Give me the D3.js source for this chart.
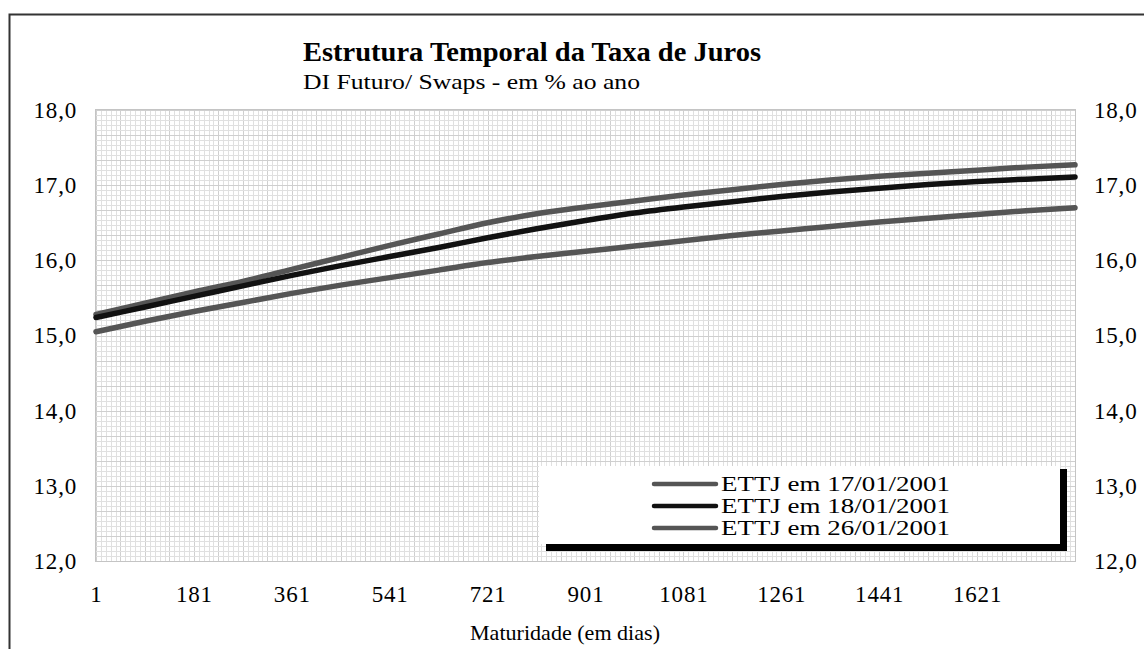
<!DOCTYPE html>
<html>
  <head>
    <meta charset="utf-8">
    <title>Estrutura Temporal da Taxa de Juros</title>
    <script src="https://d3js.org/d3.v7.min.js"></script>
    <style>
      body { margin: 0; background: #fff; }
      svg { display: block; font-family: "Liberation Serif", "Times New Roman", serif; }
    </style>
  </head>
  <body>
    <svg></svg>
    <script>
      // Maturity in days and the three term structures (% per year)
      var days = [1, 91, 181, 271, 361, 451, 541, 631, 721, 811, 901, 991, 1081, 1171, 1261, 1351, 1441, 1531, 1621, 1711, 1801];
      var ettj17 = [15.28, 15.43, 15.58, 15.72, 15.88, 16.04, 16.20, 16.35, 16.50, 16.62, 16.71, 16.79, 16.87, 16.94, 17.01, 17.07, 17.12, 17.16, 17.20, 17.24, 17.27];
      var ettj18 = [15.24, 15.38, 15.52, 15.66, 15.80, 15.93, 16.05, 16.17, 16.30, 16.42, 16.53, 16.63, 16.71, 16.78, 16.85, 16.91, 16.96, 17.01, 17.05, 17.08, 17.11];
      var ettj26 = [15.05, 15.19, 15.32, 15.44, 15.56, 15.67, 15.77, 15.87, 15.97, 16.05, 16.12, 16.19, 16.26, 16.33, 16.39, 16.45, 16.51, 16.56, 16.61, 16.66, 16.70];
      var seriesNames = ["ETTJ em 17/01/2001", "ETTJ em 18/01/2001", "ETTJ em 26/01/2001"];
      var seriesColors = ["#555555", "#111111", "#555555"];
      var xTicks = [1, 181, 361, 541, 721, 901, 1081, 1261, 1441, 1621];
      var yTicks = [12, 13, 14, 15, 16, 17, 18];

      var W = 1144, H = 649;
      var plot = { left: 96, right: 1075, top: 110, bottom: 561 };

      var svg = d3.select("svg").attr("width", W).attr("height", H);

      var x = d3.scaleLinear().domain([1, 1801]).range([plot.left, plot.right]);
      var y = d3.scaleLinear().domain([12, 18]).range([plot.bottom, plot.top]);

      // outer frame (only top and left edges visible)
      svg.append("path")
        .attr("d", "M9.5," + H + "V14.5H" + W)
        .attr("fill", "none")
        .attr("stroke", "#333")
        .attr("stroke-width", 2);

      // title
      svg.append("text")
        .attr("x", 303).attr("y", 61)
        .attr("font-size", 27).attr("font-weight", "bold")
        .attr("textLength", 458).attr("lengthAdjust", "spacingAndGlyphs")
        .text("Estrutura Temporal da Taxa de Juros");
      svg.append("text")
        .attr("x", 303).attr("y", 89)
        .attr("font-size", 22)
        .attr("textLength", 337).attr("lengthAdjust", "spacingAndGlyphs")
        .text("DI Futuro/ Swaps - em % ao ano");

      // fine grid
      var grid = svg.append("g");
      var xMinor = d3.range(1, 1802, 9);
      var yMinor = d3.range(0, 91).map(function(i) { return 12 + i / 15; });

      grid.selectAll("line.vx").data(xMinor).enter().append("line")
        .attr("x1", function(d) { return Math.round(x(d)) + 0.5; })
        .attr("x2", function(d) { return Math.round(x(d)) + 0.5; })
        .attr("y1", plot.top).attr("y2", plot.bottom)
        .attr("stroke", function(d, i) { return i % 5 == 0 ? "#cfcfcf" : "#e0e0e0"; });

      grid.selectAll("line.hy").data(yMinor).enter().append("line")
        .attr("x1", plot.left).attr("x2", plot.right)
        .attr("y1", function(d) { return Math.round(y(d)) + 0.5; })
        .attr("y2", function(d) { return Math.round(y(d)) + 0.5; })
        .attr("stroke", function(d, i) { return i % 5 == 0 ? "#cfcfcf" : "#e0e0e0"; });

      svg.append("rect")
        .attr("x", plot.left - 0.5).attr("y", plot.top - 0.5)
        .attr("width", plot.right - plot.left + 1).attr("height", plot.bottom - plot.top + 1)
        .attr("fill", "none").attr("stroke", "#c4c4c4");

      // y axes, both sides
      var fmt = function(d) { return d3.format(".1f")(d).replace(".", ","); };

      var yLeft = svg.append("g")
        .attr("transform", "translate(" + (plot.left - 19) + ",0)")
        .call(d3.axisLeft(y).tickValues(yTicks).tickFormat(fmt).tickSize(0).tickPadding(0));
      var yRight = svg.append("g")
        .attr("transform", "translate(" + (plot.right + 19) + ",0)")
        .call(d3.axisRight(y).tickValues(yTicks).tickFormat(fmt).tickSize(0).tickPadding(0));

      var xAxis = svg.append("g")
        .attr("transform", "translate(0," + (plot.bottom + 25) + ")")
        .call(d3.axisBottom(x).tickValues(xTicks).tickFormat(d3.format("d")).tickSize(0).tickPadding(0));

      [yLeft, yRight, xAxis].forEach(function(g) {
        g.select(".domain").remove();
        g.selectAll("text")
          .attr("font-family", "Liberation Serif, Times New Roman, serif")
          .attr("font-size", 23)
          .attr("letter-spacing", 0.8)
          .attr("fill", "#000");
      });

      svg.append("text")
        .attr("x", 470).attr("y", 640)
        .attr("font-size", 21)
        .attr("textLength", 190).attr("lengthAdjust", "spacingAndGlyphs")
        .text("Maturidade (em dias)");

      // lines
      var series = [ettj17, ettj18, ettj26];
      var line = d3.line()
        .x(function(d) { return x(d[0]); })
        .y(function(d) { return y(d[1]); })
        .curve(d3.curveMonotoneX);

      // draw 26 first, then 17, then 18 on top
      [2, 0, 1].forEach(function(k) {
        svg.append("path")
          .datum(d3.zip(days, series[k]))
          .attr("d", line)
          .attr("fill", "none")
          .attr("stroke", seriesColors[k])
          .attr("stroke-width", 5.5)
          .attr("stroke-linecap", "round");
      });

      // legend with black shadow
      var lg = { x: 539, y: 466, w: 521, h: 78 };
      svg.append("rect")
        .attr("x", lg.x + 7).attr("y", lg.y + 3)
        .attr("width", lg.w).attr("height", lg.h + 4)
        .attr("fill", "#000");
      svg.append("rect")
        .attr("x", lg.x).attr("y", lg.y)
        .attr("width", lg.w).attr("height", lg.h)
        .attr("fill", "#fff");

      var rows = svg.append("g").selectAll("g").data(seriesNames).enter().append("g")
        .attr("transform", function(d, i) { return "translate(0," + (lg.y + 18 + i * 22) + ")"; });
      rows.append("line")
        .attr("x1", 654).attr("x2", 716)
        .attr("stroke", function(d, i) { return seriesColors[i]; })
        .attr("stroke-width", 4.5)
        .attr("stroke-linecap", "round");
      rows.append("text")
        .attr("x", 721).attr("dy", "0.35em")
        .attr("font-size", 20)
        .attr("textLength", 229).attr("lengthAdjust", "spacingAndGlyphs")
        .text(function(d) { return d; });
    </script>
  </body>
</html>
